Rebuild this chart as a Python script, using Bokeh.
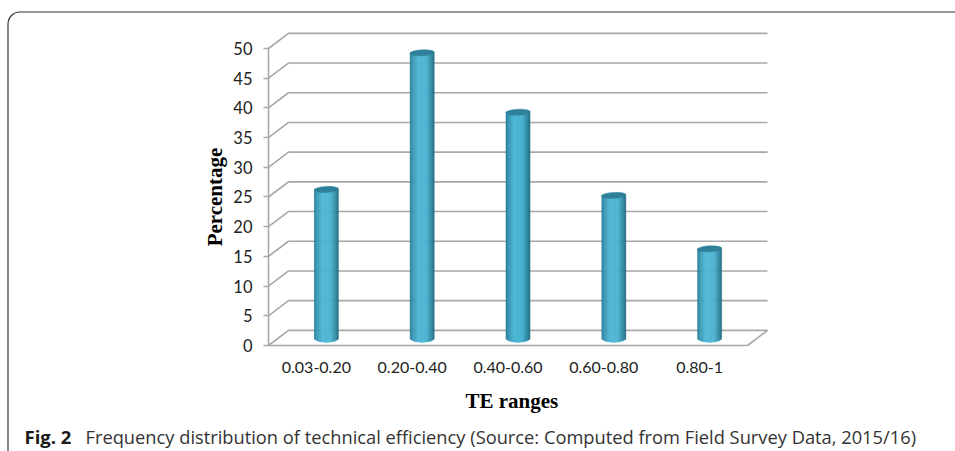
from bokeh.plotting import figure
from bokeh.models import BoxAnnotation, Label, FixedTicker, LinearAxis
from bokeh.embed import file_html
from bokeh.resources import INLINE
import math

categories = ["0.03-0.20", "0.20-0.40", "0.40-0.60", "0.60-0.80", "0.80-1"]
percentages = [25, 48, 38, 24, 15]
y_ticks = [0, 5, 10, 15, 20, 25, 30, 35, 40, 45, 50]
x_title = "TE ranges"
y_title = "Percentage"
caption_bold = "Fig. 2"
caption_text = "Frequency distribution of technical efficiency (Source: Computed from Field Survey Data, 2015/16)"

GRID = "#a8a8a8"
TOP = "#2f8199"
DX = 0.209   # depth of the 3D box along x, in category units
DY = 2.55    # depth of the 3D box along y, in percentage units
BAR_W = 0.25
ELL = 0.72   # half-height of bar base curve, in percentage units

# the frame fills the whole canvas so that caption and card border can live in it
p = figure(width=955, height=451, output_backend="svg", toolbar_location=None,
           x_range=(-2.797, 7.171), y_range=(-17.845, 58.08),
           x_axis_type=None, y_axis_type=None,
           min_border=0, min_border_left=0, min_border_right=0, min_border_top=0, min_border_bottom=0,
           background_fill_color="white", border_fill_color="white", outline_line_color=None)
p.grid.visible = False

# back wall grid lines with side wall slants
xs = []; ys = []
for t in y_ticks:
    xs.append([0, DX, 5 + DX]); ys.append([t, t + DY, t + DY])
xs.append([5, 5 + DX]); ys.append([0, DY])
p.multi_line(xs, ys, line_color=GRID, line_width=1.6)

# cylinders: thin vertical strips shaded across the width
def shade(u):
    stops = [(-1.0, (42, 120, 145)), (-0.8, (56, 150, 178)), (-0.3, (80, 184, 214)),
             (0.4, (76, 178, 208)), (0.8, (50, 138, 164)), (1.0, (38, 108, 130))]
    for (a, ca), (b, cb) in zip(stops, stops[1:]):
        if a <= u <= b:
            f = (u - a) / (b - a)
            return "#%02x%02x%02x" % tuple(int(round(x + (y - x) * f)) for x, y in zip(ca, cb))
    return "#%02x%02x%02x" % stops[-1][1]

N = 24
for i, v in enumerate(percentages):
    cx = i + 0.5 + DX / 2
    cy = v + DY / 2
    for k in range(N):
        u0 = -1 + 2 * k / N
        u1 = -1 + 2 * (k + 1) / N
        um = (u0 + u1) / 2
        p.quad(left=cx + u0 * BAR_W / 2, right=cx + u1 * BAR_W / 2, top=cy,
               bottom=DY / 2 - ELL * math.sqrt(max(0, 1 - um * um)),
               fill_color=shade(um), line_color=shade(um), line_width=0.6)
    p.ellipse(x=cx, y=cy, width=24.5, height=6, width_units="screen", height_units="screen",
              angle=0.05, fill_color=TOP, line_color=TOP, line_width=0.5)

ya = LinearAxis(fixed_location=0, bounds=(0, 50), ticker=FixedTicker(ticks=y_ticks))
ya.minor_tick_line_color = None
ya.major_tick_in = 0
ya.major_tick_out = 5
ya.major_tick_line_color = GRID
ya.major_tick_line_width = 1.5
ya.axis_line_color = GRID
ya.axis_line_width = 1.6
ya.major_label_text_font = "Lato"
ya.major_label_text_font_size = "16.5px"
ya.major_label_text_color = "#222222"
ya.major_label_standoff = 11
p.add_layout(ya, "left")

xa = LinearAxis(fixed_location=0, bounds=(0, 5),
                ticker=FixedTicker(ticks=[i + 0.5 for i in range(len(categories))]))
xa.major_label_overrides = {i + 0.5: c for i, c in enumerate(categories)}
xa.minor_tick_line_color = None
xa.major_tick_in = 0
xa.major_tick_out = 0
xa.axis_line_color = GRID
xa.axis_line_width = 1.6
xa.major_label_text_font = "Lato"
xa.major_label_text_font_size = "16px"
xa.major_label_text_color = "#222222"
xa.major_label_standoff = 17
p.add_layout(xa, "below")

# axis titles, caption and card border; screen units run from the lower left corner of the canvas
p.add_layout(Label(x=2.54, y=51, x_units="data", y_units="screen", text=x_title,
                   text_font="Liberation Serif", text_font_style="bold", text_font_size="21px",
                   text_color="black", text_align="center", text_baseline="alphabetic"))
p.add_layout(Label(x=214, y=25, x_units="screen", y_units="data", text=y_title, angle=math.pi / 2,
                   text_font="Liberation Serif", text_font_style="bold", text_font_size="21px",
                   text_color="black", text_align="center", text_baseline="alphabetic"))
p.add_layout(Label(x=24, y=15, x_units="screen", y_units="screen", text=caption_bold,
                   text_font="Open Sans", text_font_style="bold", text_font_size="18.5px",
                   text_color="#1a1a1a", text_baseline="alphabetic"))
p.add_layout(Label(x=85, y=15, x_units="screen", y_units="screen", text=caption_text,
                   text_font="Open Sans", text_font_size="18.3px",
                   text_color="#333333", text_baseline="alphabetic"))
p.add_layout(BoxAnnotation(left=7.5, right=1000, top=439.5, bottom=-50,
                           left_units="screen", right_units="screen", top_units="screen", bottom_units="screen",
                           fill_alpha=0, line_color="#333333", line_alpha=1, line_width=1.2, border_radius=12))

open("out.html", "w").write(file_html(p, INLINE))
